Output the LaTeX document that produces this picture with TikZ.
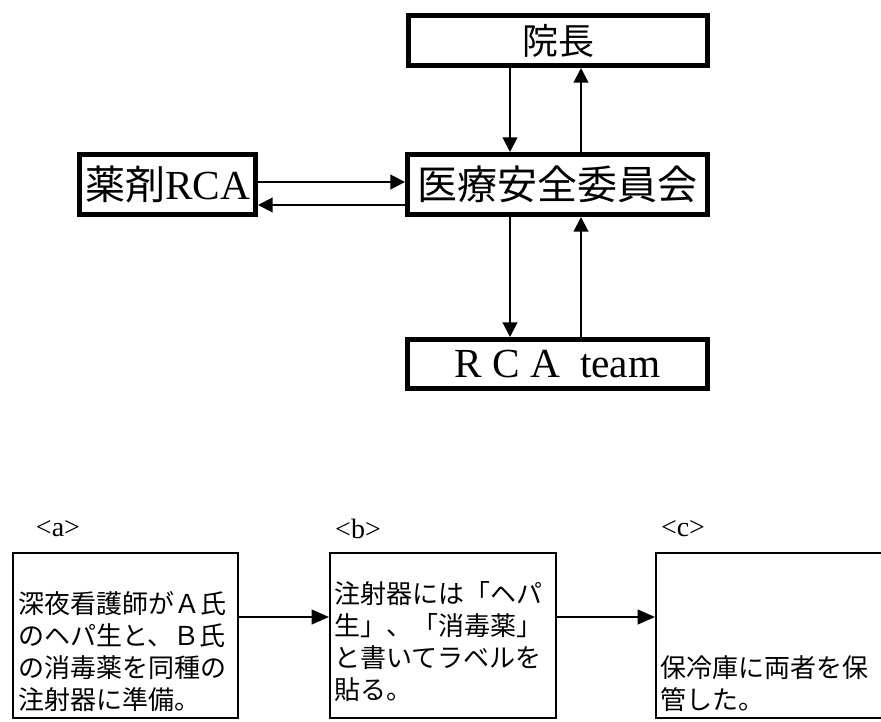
\documentclass[tikz,border=0pt]{standalone}
\usepackage{fontspec}
\setmainfont{Liberation Serif}
\newfontfamily\jp{Noto Sans CJK JP}
\usetikzlibrary{arrows.meta}
\newdimen\pxu \pxu=0.75pt
\begin{document}
\begin{tikzpicture}[x=0.75pt,y=-0.75pt,
  bigbox/.style={draw, line width=3.5pt, inner sep=0pt, rectangle},
  smallbox/.style={draw, line width=1.5pt, inner sep=0pt, rectangle, minimum height=165\pxu},
  conn/.style={line width=1.5pt, -{Triangle[length=11pt,width=11pt]}},
  bconn/.style={line width=1.5pt, -{Triangle[length=13pt,width=11pt]}},
  btxt/.style={anchor=base west, inner sep=0pt, font=\jp\fontsize{19.5pt}{24pt}\selectfont},
  lbl/.style={inner sep=0pt, font=\fontsize{21pt}{24pt}\selectfont}
]
\useasboundingbox (0,0) rectangle (881,721);
% top part
\node[bigbox, minimum width=299.3\pxu, minimum height=50.3\pxu, font=\jp\fontsize{27pt}{30pt}\selectfont] (inchou) at (558,40.5) {院長};
\node[bigbox, minimum width=300.3\pxu, minimum height=60.3\pxu, font=\jp\fontsize{30pt}{32pt}\selectfont] (iryou) at (557.5,184.5) {医療安全委員会};
\node[bigbox, minimum width=176.3\pxu, minimum height=60.3\pxu, font=\fontsize{31pt}{32pt}\selectfont] (yaku) at (167.5,184.5) {{\jp\fontsize{30pt}{32pt}\selectfont 薬剤}RCA};
\node[bigbox, minimum width=300.3\pxu, minimum height=49.3\pxu, font=\fontsize{31pt}{32pt}\selectfont] (rca) at (557.5,364) {R C A\hspace{15pt}team};
\coordinate (xl) at (510,0);
\coordinate (xr) at (581,0);
\coordinate (yu) at (0,182);
\coordinate (yd) at (0,205);
\draw[conn] (inchou.south -| xl) -- (iryou.north -| xl);
\draw[conn] (iryou.north -| xr) -- (inchou.south -| xr);
\draw[conn] (iryou.south -| xl) -- (rca.north -| xl);
\draw[conn] (rca.north -| xr) -- (iryou.south -| xr);
\draw[conn] (yaku.east |- yu) -- (iryou.west |- yu);
\draw[conn] (iryou.west |- yd) -- (yaku.east |- yd);
% bottom part
\node[lbl] (la) at (58,529) {<a>};
\node[lbl] (lb) at (358,529) {<b>};
\node[lbl] (lc) at (683,529) {<c>};
\node[smallbox, minimum width=225\pxu] (boxa) at (125.5,635.5) {};
\node[smallbox, minimum width=226\pxu] (boxb) at (443,635.5) {};
\node[smallbox, minimum width=233\pxu] (boxc) at (772.5,635.5) {};
\coordinate (yb) at (0,617);
\draw[bconn] (boxa.east |- yb) -- (boxb.west |- yb);
\draw[bconn] (boxb.east |- yb) -- (boxc.west |- yb);
\node[btxt] (a1) at (18,613) {深夜看護師がＡ氏};
\node[btxt] (a2) at (18,645) {のヘパ生と、Ｂ氏};
\node[btxt] (a3) at (18,677) {の消毒薬を同種の};
\node[btxt] (a4) at (18,709) {注射器に準備。};
\node[btxt] (b1) at (334,603) {注射器には「ヘパ};
\node[btxt] (b2) at (334,635) {生」、「消毒薬」};
\node[btxt] (b3) at (334,667) {と書いてラベルを};
\node[btxt] (b4) at (334,699) {貼る。};
\node[btxt] (c1) at (660,677) {保冷庫に両者を保};
\node[btxt] (c2) at (660,709) {管した。};
\end{tikzpicture}
\end{document}
